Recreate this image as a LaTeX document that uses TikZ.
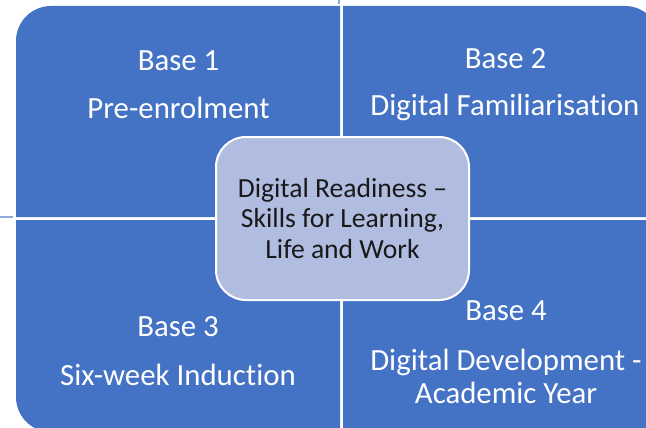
\documentclass[tikz,border=0pt]{standalone}
\usepackage{fontspec}
\setmainfont{Carlito}[Ligatures={TeX,NoCommon}]
\definecolor{quadblue}{RGB}{68,114,196}
\definecolor{hubblue}{RGB}{177,189,224}
\definecolor{tickblue}{RGB}{143,170,220}
\tikzstyle{quad} = [fill=quadblue]
\tikzstyle{basetext} = [text=white, inner sep=0pt,
    font=\fontsize{30.8}{33.3}\selectfont]
\tikzstyle{hub} = [draw=white, line width=2pt, fill=hubblue, rounded corners=30pt,
    minimum width=253pt, minimum height=163pt, align=center, text=black!90,
    font=\fontsize{27.6}{30.7}\selectfont]
\tikzstyle{tick} = [draw=tickblue, line width=1.5pt]

\begin{document}
\begin{tikzpicture}[x=1pt,y=1pt]

    \useasboundingbox (0,0) rectangle (646,-428);
    \clip (0,0) rectangle (646,-428);

    \draw[tick] (339,0) -- (339,-4);
    \draw[tick] (0,-217) -- (13,-217);

    \fill[quad] (16,-217) -- (16,-41) arc[start angle=180,end angle=90,radius=35]
        -- (340,-6) -- (340,-217) -- cycle;
    \fill[quad] (343,-217) -- (343,-6) -- (625,-6) arc[start angle=90,end angle=0,radius=35]
        -- (660,-217) -- cycle;
    \fill[quad] (16,-220) -- (340,-220) -- (340,-432) -- (51,-432)
        arc[start angle=270,end angle=180,radius=35] -- cycle;
    \fill[quad] (343,-220) -- (665,-220) -- (665,-410)
        arc[start angle=0,end angle=-90,radius=35] -- (343,-445) -- cycle;

    \node[basetext, anchor=base] at (178.5,-71) (base1) {Base 1};
    \node[basetext, anchor=base] at (178.5,-118) (stage1) {Pre-enrolment};
    \node[basetext, anchor=base] at (505.5,-69) (base2) {Base 2};
    \node[basetext, anchor=base] at (505,-116) (stage2) {Digital Familiarisation};
    \node[basetext, anchor=base] at (178,-336.7) (base3) {Base 3};
    \node[basetext, anchor=base] at (178,-385) (stage3) {Six-week Induction};
    \node[basetext, anchor=base] at (506,-320.7) (base4) {Base 4};
    \node[basetext, align=center] at (506,-376.5) (stage4) {Digital Development -\\Academic Year};

    \node[hub] at (342.5,-218.5) (hub) {Digital Readiness –\\Skills for Learning,\\Life and Work};
\end{tikzpicture}
\end{document}
